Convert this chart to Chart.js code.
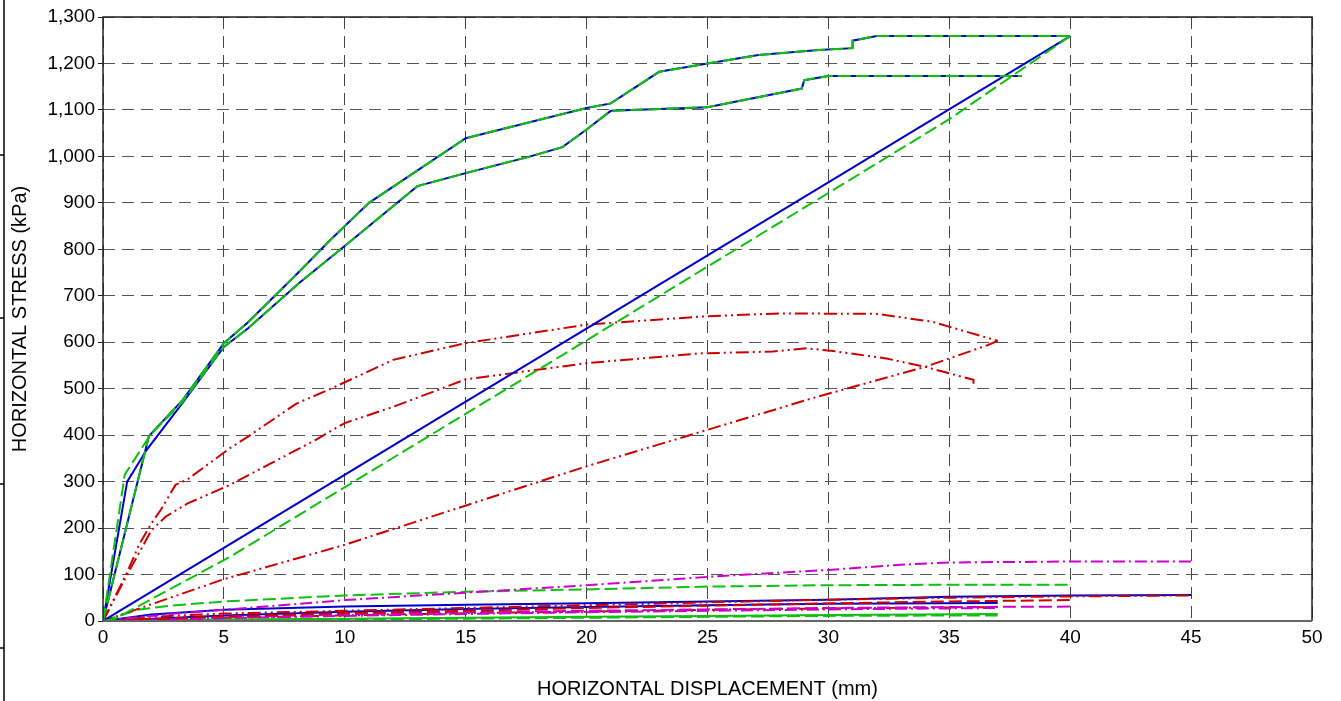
<!DOCTYPE html>
<html>
<head>
<meta charset="utf-8">
<script src="https://cdn.jsdelivr.net/npm/chart.js@4"></script>
<style>
html,body{margin:0;padding:0;background:#fff}
</style>
</head>
<body>
<canvas id="chart" width="1341" height="701"></canvas>
<script>
// points are [displacement mm, stress kPa]
const upperLoad = [[0,0],[1.9,398],[3.3,476],[5,598],[6,643],[8.1,751],[9.4,820],[11,900],[15,1039],[17.6,1073],[20,1104],[21,1114],[23,1182],[25,1200],[27.1,1218],[29.6,1229],[31,1233],[31,1249],[32,1259],[40,1259]];
const lowerLoadBlue = [[0,0],[1,300],[1.8,368],[3.3,470],[5,590],[6,630],[8.1,727],[10.3,820],[13,936],[15,964],[17.6,999],[19,1020],[20,1058],[21,1098],[25,1106],[28.9,1146],[29,1164],[30,1173],[38,1173]];
const lowerLoadGreen = [[0,0],[0.9,315],[1.95,400],[3.3,472],[5,590],[6,630],[8.1,727],[10.3,820],[13,936],[15,964],[17.6,999],[19,1020],[20,1058],[21,1098],[25,1106],[28.9,1146],[29,1164],[30,1173],[38,1173]];
const unloadBlue = [[40,1259],[0,0]];
const unloadGreen = [[40,1259],[35,1080],[20,604],[5.25,138],[0.5,5],[0,0]];

const redUpper = [[0,0],[1,105],[1.5,165],[2,210],[2.4,240],[3,293],[3.5,305],[5.25,372],[6,397],[8,468],[9.3,497],[12,562],[15,598],[20,638],[25,656],[28,662],[32,661],[34.3,644],[37,603]];
const redLower = [[0,0],[1,100],[2,195],[2.6,225],[3.5,253],[5.25,293],[8.8,390],[10,426],[12,461],[15,520],[20,555],[24.7,576],[27.7,580],[29.1,587],[30.2,581],[32.4,565],[34,547],[36,519],[36,508]];
const redUnload = [[37,603],[36.6,594],[34,547],[29.5,482],[20,333],[10,164],[5,90],[0,0]];

const magentaTop = [[0,0],[1,6],[2,11],[3,16],[5,24],[10,45],[15,61],[20,77],[25,95],[30,110],[33,121],[35,126],[40,128],[45,128]];
const greenTop = [[0,0],[1.5,25],[3,34],[5,42],[10,55],[15,63],[20,68],[25,74],[30,77],[35,78],[40,78]];
const blueLow1 = [[0,0],[2,14],[5,24],[10,31],[15,35],[20,38],[25,42],[30,46],[35,52],[40,55],[45,56]];
const redLow1 = [[0,0],[2,9],[5,16],[10,22],[15,28],[20,34],[25,40],[30,46],[35,50],[40,53],[45,55]];
const redLow2 = [[0,0],[5,10],[10,17],[15,22],[20,28],[25,33],[30,38],[35,42],[40,45]];
const blueLow2 = [[0,0],[5,12],[10,20],[15,26],[20,30],[25,34],[30,37],[37,39]];
const magentaLow2 = [[0,0],[5,8],[10,14],[15,19],[20,22],[25,25],[30,28],[35,30],[40,31]];
const magentaLow3 = [[0,0],[5,6],[10,11],[15,15],[20,19],[25,22],[30,25],[37,28]];
const redLow3 = [[0,0],[5,7],[10,12],[15,17],[20,20],[25,24],[30,27],[37,30]];
const greenLow2 = [[0,0],[5,3],[10,5],[15,7],[20,9],[25,11],[30,13],[37,15]];
const greenLow3 = [[0,0],[5,1],[10,3],[15,5],[20,7],[25,9],[30,11],[37,12]];

const xTicks = [0,5,10,15,20,25,30,35,40,45,50];
const yTicks = [0,100,200,300,400,500,600,700,800,900,1000,1100,1200,1300];

const BLUE = '#0000cc', GREEN = '#10c010', RED = '#cc0000', MAGENTA = '#cc00cc';
const SOLID = [], DASH = [13,5], DASHDOT = [12,4,2,4], DASHDOTDOT = [13,4,2,4,2,4];

function line(pts, color, dash, order) {
  return {
    data: pts.map(p => ({x: p[0], y: p[1]})),
    borderColor: color,
    borderDash: dash,
    borderWidth: 2,
    pointRadius: 0,
    fill: false,
    tension: 0,
    order: order
  };
}

// frame around the plot and the stray border line at the far left
const framePlugin = {
  id: 'frame',
  afterDraw(chart) {
    const {ctx, chartArea: a} = chart;
    ctx.save();
    ctx.strokeStyle = '#222';
    ctx.lineWidth = 1.5;
    ctx.beginPath();
    ctx.moveTo(a.left, a.bottom);
    ctx.lineTo(a.left, a.top);
    ctx.lineTo(a.right, a.top);
    ctx.lineTo(a.right, a.bottom);
    ctx.stroke();
    ctx.strokeStyle = '#666';
    ctx.lineWidth = 2;
    ctx.beginPath();
    ctx.moveTo(a.left, a.bottom);
    ctx.lineTo(a.right, a.bottom);
    ctx.stroke();
    ctx.strokeStyle = '#000';
    ctx.lineWidth = 1.5;
    ctx.beginPath();
    ctx.moveTo(4, 0);
    ctx.lineTo(4, 701);
    [155, 318, 484, 648].forEach(y => { ctx.moveTo(0, y); ctx.lineTo(4, y); });
    ctx.stroke();
    ctx.restore();
  }
};

const TICKFONT = {family: 'Arial, "Liberation Sans", sans-serif', size: 19};
const TITLEFONT = {family: 'Arial, "Liberation Sans", sans-serif', size: 20};

new Chart(document.getElementById('chart'), {
  type: 'line',
  data: {
    datasets: [
      line(upperLoad, GREEN, DASH, 0),
      line(lowerLoadGreen, GREEN, DASH, 0),
      line(unloadGreen, GREEN, DASH, 0),
      line(upperLoad, BLUE, SOLID, 1),
      line(lowerLoadBlue, BLUE, SOLID, 1),
      line(unloadBlue, BLUE, SOLID, 1),
      line(redUpper, RED, DASHDOTDOT, 2),
      line(redLower, RED, DASHDOTDOT, 2),
      line(redUnload, RED, DASHDOTDOT, 2),
      line(magentaTop, MAGENTA, DASHDOT, 2),
      line(greenTop, GREEN, DASH, 2),
      line(blueLow1, BLUE, SOLID, 3),
      line(redLow1, RED, DASHDOTDOT, 2),
      line(redLow2, RED, DASH, 2),
      line(blueLow2, BLUE, SOLID, 3),
      line(magentaLow2, MAGENTA, DASH, 2),
      line(magentaLow3, MAGENTA, DASHDOT, 2),
      line(redLow3, RED, DASHDOTDOT, 2),
      line(greenLow2, GREEN, SOLID, 2),
      line(greenLow3, GREEN, DASH, 2)
    ]
  },
  options: {
    responsive: false,
    animation: false,
    layout: {padding: {left: 0, top: 17, right: 29, bottom: 0}},
    plugins: {legend: {display: false}, tooltip: {enabled: false}},
    scales: {
      x: {
        type: 'linear',
        min: 0, max: 50,
        afterFit(s) { s.height = 80; },
        afterBuildTicks(s) { s.ticks = xTicks.map(v => ({value: v})); },
        ticks: {color: '#000', font: TICKFONT, padding: 5, autoSkip: false, maxRotation: 0},
        grid: {color: '#444', lineWidth: 1, drawTicks: false},
        border: {display: false, dash: [12,7]},
        title: {display: true, text: 'HORIZONTAL DISPLACEMENT (mm)', color: '#000', font: TITLEFONT, padding: {top: 0, bottom: 0}}
      },
      y: {
        min: 0, max: 1300,
        afterFit(s) { s.width = 103; },
        afterBuildTicks(s) { s.ticks = yTicks.map(v => ({value: v})); },
        ticks: {color: '#000', font: TICKFONT, padding: 3, autoSkip: false,
          callback: v => v.toLocaleString('en-US')},
        grid: {color: '#555', lineWidth: 1, tickLength: 5, tickColor: '#222'},
        border: {display: false, dash: [12,7]},
        title: {display: true, text: 'HORIZONTAL STRESS (kPa)', color: '#000', font: TITLEFONT, padding: {top: 8, bottom: 0}}
      }
    }
  },
  plugins: [framePlugin]
});
</script>
</body>
</html>
